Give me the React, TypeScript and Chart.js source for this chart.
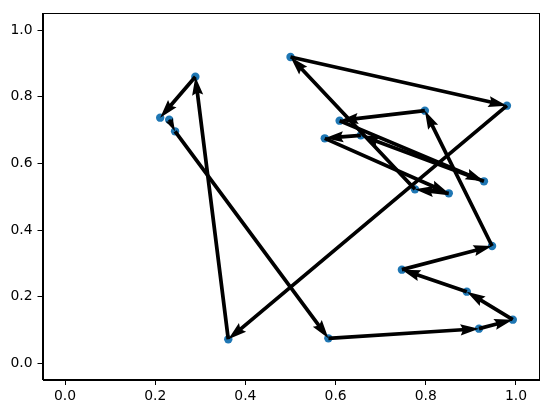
import React, { useEffect, useRef } from "react";
import { Chart, registerables } from "chart.js";

Chart.register(...registerables);

// Path of points, in drawing order (each arrow goes from point i to point i+1)
const xs = [0.231, 0.244, 0.584, 0.918, 0.993, 0.891, 0.747, 0.947, 0.798, 0.609, 0.929, 0.656, 0.576, 0.851, 0.776, 0.5, 0.98, 0.362, 0.289, 0.211];
const ys = [0.731, 0.696, 0.075, 0.104, 0.131, 0.215, 0.281, 0.352, 0.758, 0.728, 0.546, 0.684, 0.675, 0.51, 0.522, 0.919, 0.773, 0.072, 0.86, 0.737];

const xTicks = [0, 0.2, 0.4, 0.6, 0.8, 1.0];
const yTicks = [0, 0.2, 0.4, 0.6, 0.8, 1.0];
const axisMin = -0.05;
const axisMax = 1.05;

const FONT = { family: "'DejaVu Sans', sans-serif", size: 13.9 };

function drawArrow(ctx: CanvasRenderingContext2D, x0: number, y0: number, x1: number, y1: number, w: number) {
  const dx = x1 - x0;
  const dy = y1 - y0;
  const Lpx = Math.hypot(dx, dy);
  if (Lpx < 0.01) return;
  const L = Lpx / w; // length in shaft widths
  const hl = 5, hal = 4.5, hw = 3;
  const minsh = 1 * hl;
  let px: number[], py: number[];
  if (L >= minsh) {
    px = [0, L - hal, L - hl, L, L - hl, L - hal, 0];
    py = [0.5, 0.5, hw / 2, 0, -hw / 2, -0.5, -0.5];
  } else {
    const s = L / minsh;
    px = [0, minsh - hal, minsh - hl, minsh, minsh - hl, minsh - hal, 0].map((v) => v * s);
    py = [0.5, 0.5, hw / 2, 0, -hw / 2, -0.5, -0.5].map((v) => v * s);
  }
  const ux = dx / Lpx, uy = dy / Lpx;
  const nx = -uy, ny = ux;
  ctx.beginPath();
  for (let i = 0; i < px.length; i++) {
    const X = x0 + (px[i] * ux + py[i] * nx) * w;
    const Y = y0 + (px[i] * uy + py[i] * ny) * w;
    if (i === 0) ctx.moveTo(X, Y);
    else ctx.lineTo(X, Y);
  }
  ctx.closePath();
  ctx.fill();
}

const arrowPlugin = {
  id: "arrows",
  afterDatasetsDraw(chart: any) {
    const ctx = chart.ctx as CanvasRenderingContext2D;
    const xs_ = chart.scales.x;
    const ys_ = chart.scales.y;
    const w = 0.0075 * chart.chartArea.width;
    ctx.save();
    ctx.fillStyle = "#000";
    for (let i = 0; i < xs.length - 1; i++) {
      drawArrow(
        ctx,
        xs_.getPixelForValue(xs[i]),
        ys_.getPixelForValue(ys[i]),
        xs_.getPixelForValue(xs[i + 1]),
        ys_.getPixelForValue(ys[i + 1]),
        w
      );
    }
    ctx.restore();
  },
  afterDraw(chart: any) {
    const { left, right, top, bottom } = chart.chartArea;
    const ctx = chart.ctx as CanvasRenderingContext2D;
    ctx.save();
    ctx.strokeStyle = "#000";
    ctx.lineWidth = 1;
    ctx.strokeRect(Math.round(left) + 0.5, Math.round(top) + 0.5, Math.round(right - left), Math.round(bottom - top));
    ctx.restore();
  },
};

export default function App() {
  const ref = useRef<HTMLCanvasElement>(null);
  useEffect(() => {
    document.body.style.margin = "0";
    const canvas = ref.current!;
    const chart = new Chart(canvas, {
      type: "scatter",
      data: {
        datasets: [
          {
            data: xs.map((x, i) => ({ x, y: ys[i] })),
            backgroundColor: "#1f77b4",
            borderWidth: 0,
            pointRadius: 4.2,
            pointHoverRadius: 4.2,
          },
        ],
      },
      options: {
        animation: false,
        responsive: false,
        devicePixelRatio: 1,
        events: [],
        layout: { padding: { top: 10, right: 8.5, left: 0, bottom: 0 } },
        plugins: { legend: { display: false }, tooltip: { enabled: false } },
        scales: {
          x: {
            type: "linear",
            min: axisMin,
            max: axisMax,
            afterFit: (s: any) => { s.height = 33; },
            afterBuildTicks: (s: any) => { s.ticks = xTicks.map((v) => ({ value: v })); },
            grid: { drawOnChartArea: false, drawTicks: true, tickLength: 5, tickColor: "#000", tickWidth: 1 },
            border: { display: true, color: "#000", width: 1 },
            ticks: { color: "#000", font: FONT, padding: 3, maxRotation: 0, callback: (v: any) => Number(v).toFixed(1) },
          },
          y: {
            type: "linear",
            min: axisMin,
            max: axisMax,
            afterFit: (s: any) => { s.width = 42.5; },
            afterBuildTicks: (s: any) => { s.ticks = yTicks.map((v) => ({ value: v })); },
            grid: { drawOnChartArea: false, drawTicks: true, tickLength: 5, tickColor: "#000", tickWidth: 1 },
            border: { display: true, color: "#000", width: 1 },
            ticks: { color: "#000", font: FONT, padding: 5, callback: (v: any) => Number(v).toFixed(1) },
          },
        },
      },
      plugins: [arrowPlugin],
    });
    return () => chart.destroy();
  }, []);
  return (
    <canvas
      ref={ref}
      width={547}
      height={413}
      style={{ display: "block", width: 547, height: 413, background: "#fff" }}
    />
  );
}
